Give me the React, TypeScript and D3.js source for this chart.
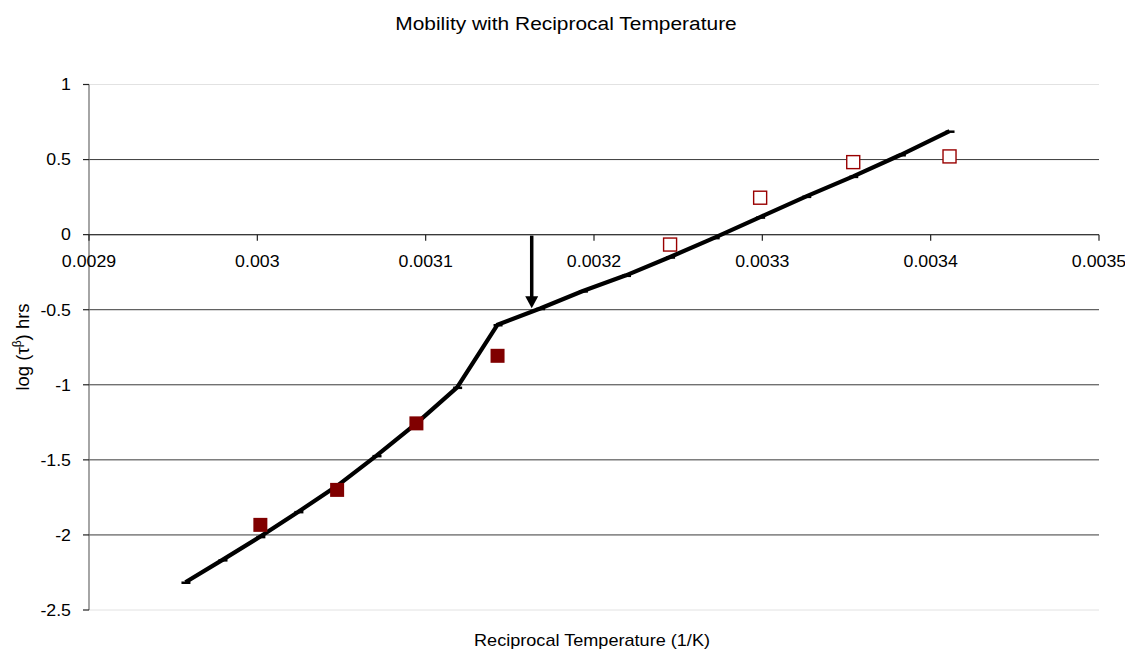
import React from "react";
import * as d3 from "d3";

// Fitted curve (reciprocal temperature, log tau^beta)
const curveX = [
  0.0029573, 0.0029793, 0.0030018, 0.0030244, 0.0030474, 0.0030708, 0.0030945,
  0.0031187, 0.0031427, 0.003168, 0.0031934, 0.003219, 0.0032452, 0.0032717,
  0.0032987, 0.0033261, 0.003354, 0.0033823, 0.0034112,
];
const curveY = [
  -2.315, -2.166, -2.011, -1.845, -1.673, -1.472, -1.257, -1.017, -0.6, -0.492,
  -0.375, -0.271, -0.149, -0.02, 0.117, 0.255, 0.388, 0.532, 0.689,
];

// Measured points above the transition (filled)
const filledX = [0.0030018, 0.0030474, 0.0030945, 0.0031427];
const filledY = [-1.933, -1.7, -1.257, -0.807];

// Measured points below the transition (open)
const openX = [0.0032452, 0.0032987, 0.003354, 0.0034112];
const openY = [-0.066, 0.246, 0.483, 0.521];

// Transition marker arrow
const arrowX = 0.003163;
const arrowFrom = 0;
const arrowTo = -0.49;

const xTicks = [0.0029, 0.003, 0.0031, 0.0032, 0.0033, 0.0034, 0.0035];
const xTickLabels = ["0.0029", "0.003", "0.0031", "0.0032", "0.0033", "0.0034", "0.0035"];
const yTicks = [1, 0.5, 0, -0.5, -1, -1.5, -2, -2.5];
const yTickLabels = ["1", "0.5", "0", "-0.5", "-1", "-1.5", "-2", "-2.5"];

const W = 1125;
const H = 650;
const FONT = "'Liberation Sans', Arial, Helvetica, sans-serif";
const SX = 1.09; // horizontal glyph stretch

const x = d3.scaleLinear().domain([0.0029, 0.0035]).range([89, 1099]);
const y = d3.scaleLinear().domain([-2.5, 1]).range([610, 84.5]);

function Label({ tx, ty, size, anchor, children }: any) {
  return (
    <text
      transform={`translate(${tx},${ty}) scale(${SX},1)`}
      fontFamily={FONT}
      fontSize={size}
      textAnchor={anchor}
      fill="#000"
    >
      {children}
    </text>
  );
}

export default function App() {
  const pts = curveX.map((v, i) => [v, curveY[i]] as [number, number]);
  const line = d3
    .line<[number, number]>()
    .x((d) => x(d[0]))
    .y((d) => y(d[1]));

  const ax = x(arrowX);
  const ay0 = y(arrowFrom);
  const ay1 = y(arrowTo);
  const headH = 12;
  const headW = 6.5;

  return (
    <svg
      width={W}
      height={H}
      style={{ position: "absolute", left: 0, top: 0, display: "block", background: "#fff" }}
    >
      <rect width={W} height={H} fill="#fff" />

      {/* gridlines */}
      {yTicks.map((t) => (
        <line
          key={"g" + t}
          x1={x(0.0029)}
          x2={x(0.0035)}
          y1={y(t)}
          y2={y(t)}
          stroke={t === 1 || t === -2.5 ? "#e2e2e2" : "#3a3a3a"}
          strokeWidth={1}
        />
      ))}

      {/* y axis */}
      <line x1={x(0.0029)} x2={x(0.0029)} y1={y(1)} y2={y(-2.5)} stroke="#6a6a6a" strokeWidth={1.2} />
      {yTicks.map((t, i) => (
        <g key={"yt" + t}>
          <line x1={x(0.0029) - 6} x2={x(0.0029)} y1={y(t)} y2={y(t)} stroke="#222" strokeWidth={1.2} />
          <Label tx={71} ty={y(t) + 5.8} size={16.3} anchor="end">
            {yTickLabels[i]}
          </Label>
        </g>
      ))}

      {/* x axis at zero */}
      <line x1={x(0.0029)} x2={x(0.0035)} y1={y(0)} y2={y(0)} stroke="#3a3a3a" strokeWidth={1.2} />
      {xTicks.map((t, i) => (
        <g key={"xt" + t}>
          <line x1={x(t)} x2={x(t)} y1={y(0)} y2={y(0) + 6} stroke="#222" strokeWidth={1.2} />
          <Label tx={x(t)} ty={y(0) + 32.5} size={16.3} anchor="middle">
            {xTickLabels[i]}
          </Label>
        </g>
      ))}

      {/* fitted curve */}
      <path d={line(pts) || ""} fill="none" stroke="#000" strokeWidth={4.2} strokeLinejoin="round" />
      {pts.map((d, i) => (
        <line
          key={"m" + i}
          x1={x(d[0]) - 4}
          x2={x(d[0]) + 5}
          y1={y(d[1]) + 0.5}
          y2={y(d[1]) + 0.5}
          stroke="#000"
          strokeWidth={2.5}
        />
      ))}

      {/* filled squares */}
      {filledX.map((v, i) => (
        <rect
          key={"f" + i}
          x={x(v) - 7}
          y={y(filledY[i]) - 7}
          width={14}
          height={14}
          fill="#800000"
        />
      ))}

      {/* open squares */}
      {openX.map((v, i) => (
        <rect
          key={"o" + i}
          x={x(v) - 6.5}
          y={y(openY[i]) - 6.5}
          width={13}
          height={13}
          fill="#fff"
          stroke="#990000"
          strokeWidth={1.4}
        />
      ))}

      {/* arrow */}
      <line x1={ax} x2={ax} y1={ay0 + 1} y2={ay1 - headH + 1} stroke="#000" strokeWidth={3.5} />
      <path
        d={`M${ax - headW},${ay1 - headH} L${ax + headW},${ay1 - headH} L${ax},${ay1} Z`}
        fill="#000"
      />

      {/* titles */}
      <Label tx={566} ty={30} size={19.2} anchor="middle">
        Mobility with Reciprocal Temperature
      </Label>
      <Label tx={592} ty={646} size={16.6} anchor="middle">
        Reciprocal Temperature (1/K)
      </Label>
      <text
        transform={`translate(28.5,347) rotate(-90)`}
        fontFamily={FONT}
        fontSize={18.5}
        textAnchor="middle"
        fill="#000"
      >
        log (τ
        <tspan fontSize={12} dy={-8}>β</tspan>
        <tspan dy={8}>) hrs</tspan>
      </text>
    </svg>
  );
}
